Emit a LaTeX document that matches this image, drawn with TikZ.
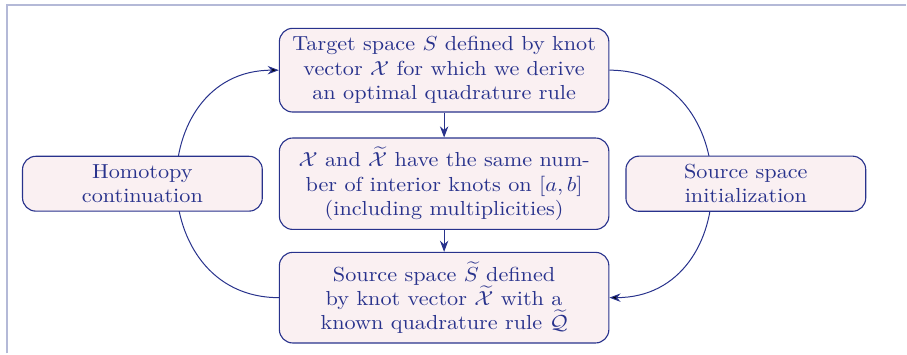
\documentclass[tikz,border=0pt]{standalone}
\usetikzlibrary{arrows.meta, positioning, calc, backgrounds}
\usepackage{amsmath}

\definecolor{navy}{RGB}{40,50,140}
\definecolor{boxfill}{RGB}{250,240,242}
\definecolor{framegray}{RGB}{180,185,215}

\begin{document}
\begin{tikzpicture}[
    >=Stealth, node distance=12pt, color=navy, yscale=0.915,
    every node/.append style={transform shape},
    block/.style={draw=navy, fill=boxfill, rounded corners=6pt, align=center,
                  text=navy, inner xsep=3.5pt, inner ysep=4pt, line width=0.5pt},
    mainbox/.style={block, minimum width=148.4pt, minimum height=41.2pt},
    sidebox/.style={block, minimum width=108pt, minimum height=27pt},
    link/.style={->, draw=navy, line width=0.45pt}
  ]
  \node[mainbox] (tgt) {Target space $S$ defined by knot\\
        vector $\mathcal{X}$ for which we derive\\an optimal quadrature rule};
  \node[mainbox, minimum height=45pt, below=12.3pt of tgt] (same)
        {$\mathcal{X}$ and $\widetilde{\mathcal{X}}$ have the same num-\\
        ber of interior knots on $[a,b]$\\(including multiplicities)};
  \node[mainbox, minimum height=44.6pt, below=10.8pt of same] (src)
        {Source space $\widetilde{S}$ defined\\
        by knot vector $\widetilde{\mathcal{X}}$ with a\\known quadrature rule $\widetilde{\mathcal{Q}}$};

  \node[sidebox, left=7.2pt of same] (homo) {Homotopy\\continuation};
  \node[sidebox, right=7.2pt of same] (init) {Source space\\initialization};

  \draw[link] (tgt) -- (same);
  \draw[link] (same) -- (src);

  % loops go behind the side boxes
  \begin{scope}[on background layer]
    \draw[link] (src.west) to[out=180, in=180, looseness=1.4] (tgt.west);
    \draw[link] (tgt.east) to[out=0, in=0, looseness=1.4] (src.east);
  \end{scope}

  % page frame and size
  \coordinate (nw) at ($(homo.west |- tgt.north)+(-9.9pt,13.7pt)$);
  \coordinate (se) at ($(init.east |- src.south)+(17.9pt,-4.9pt)$);
  \draw[framegray, line width=0.9pt] ($(nw |- se)+(3.2pt,0)$) -- ($(nw)+(3.2pt,-2.4pt)$)
        -- ($(nw -| se)+(0,-2.4pt)$);
  \useasboundingbox (nw) rectangle (se);
\end{tikzpicture}
\end{document}
